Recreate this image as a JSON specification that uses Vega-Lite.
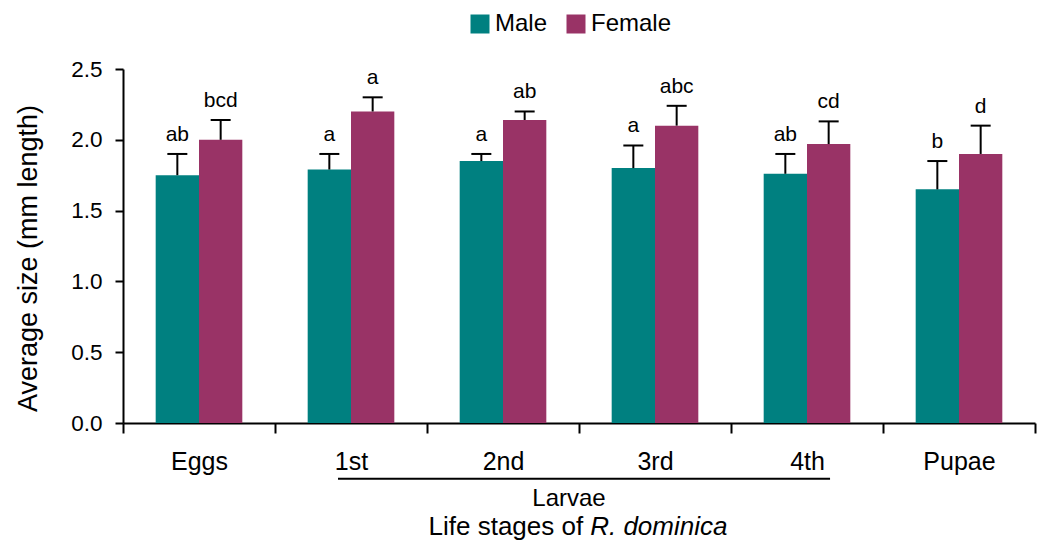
{
  "$schema": "https://vega.github.io/schema/vega-lite/v6.json",
  "autosize": "none",
  "width": 912,
  "height": 354,
  "padding": {"left": 123, "top": 69, "right": 3, "bottom": 128},
  "background": "white",
  "config": {
    "font": "Liberation Sans",
    "view": {"stroke": null},
    "axis": {"domainColor": "black", "tickColor": "black", "labelColor": "black", "titleColor": "black", "domainWidth": 2, "tickWidth": 2, "grid": false, "titleFontWeight": "normal"}
  },
  "datasets": {
    "bars": [
      {"stage": "Eggs", "sex": "Male", "value": 1.75, "upper": 1.90, "letter": "ab"},
      {"stage": "Eggs", "sex": "Female", "value": 2.00, "upper": 2.14, "letter": "bcd"},
      {"stage": "1st", "sex": "Male", "value": 1.79, "upper": 1.90, "letter": "a"},
      {"stage": "1st", "sex": "Female", "value": 2.20, "upper": 2.30, "letter": "a"},
      {"stage": "2nd", "sex": "Male", "value": 1.85, "upper": 1.90, "letter": "a"},
      {"stage": "2nd", "sex": "Female", "value": 2.14, "upper": 2.20, "letter": "ab"},
      {"stage": "3rd", "sex": "Male", "value": 1.80, "upper": 1.96, "letter": "a"},
      {"stage": "3rd", "sex": "Female", "value": 2.10, "upper": 2.24, "letter": "abc"},
      {"stage": "4th", "sex": "Male", "value": 1.76, "upper": 1.90, "letter": "ab"},
      {"stage": "4th", "sex": "Female", "value": 1.97, "upper": 2.13, "letter": "cd"},
      {"stage": "Pupae", "sex": "Male", "value": 1.65, "upper": 1.85, "letter": "b"},
      {"stage": "Pupae", "sex": "Female", "value": 1.90, "upper": 2.10, "letter": "d"}
    ],
    "group": [{"from": "1st", "to": "4th", "mid": "2nd", "label": "Larvae"}],
    "axistitle": [{"stage": "2nd", "plain": "Life stages of", "species": "R. dominica"}]
  },
  "layer": [
    {
      "data": {"name": "bars"},
      "mark": {"type": "bar"},
      "encoding": {
        "x": {"field": "stage", "type": "nominal", "sort": ["Eggs", "1st", "2nd", "3rd", "4th", "Pupae"],
              "scale": {"domain": ["Eggs", "1st", "2nd", "3rd", "4th", "Pupae"], "paddingInner": 0.43, "paddingOuter": 0.215},
              "axis": {"title": null, "labelAngle": 0, "labelFontSize": 25, "bandPosition": 1.7544, "tickOffset": -32.68, "tickExtra": true, "labelOffset": 32.68, "tickSize": 10, "labelPadding": 16}},
        "xOffset": {"field": "sex", "type": "nominal", "sort": ["Male", "Female"], "scale": {"domain": ["Male", "Female"], "paddingInner": 0, "paddingOuter": 0}},
        "y": {"field": "value", "type": "quantitative",
              "scale": {"domain": [0, 2.5], "nice": false},
              "axis": {"title": "Average size (mm length)", "titleFontSize": 27, "labelFontSize": 22.5, "values": [0, 0.5, 1, 1.5, 2, 2.5], "format": ".1f", "tickSize": 8, "labelPadding": 13, "titlePadding": 28, "titleY": 189}},
        "color": {"field": "sex", "type": "nominal",
                  "scale": {"domain": ["Male", "Female"], "range": ["#008080", "#993366"]},
                  "legend": {"title": null, "orient": "none", "legendX": 345, "legendY": -57, "direction": "horizontal", "symbolType": "square", "symbolSize": 361, "symbolStrokeWidth": 0, "symbolOpacity": 1, "labelFontSize": 24, "labelColor": "black", "labelOffset": 3, "columnPadding": 16}}
      }
    },
    {
      "data": {"name": "bars"},
      "mark": {"type": "rule", "color": "black", "strokeWidth": 2},
      "encoding": {
        "x": {"field": "stage", "type": "nominal"},
        "xOffset": {"field": "sex", "type": "nominal"},
        "y": {"field": "value", "type": "quantitative"},
        "y2": {"field": "upper"}
      }
    },
    {
      "data": {"name": "bars"},
      "mark": {"type": "tick", "color": "black", "thickness": 2, "size": 20, "opacity": 1},
      "encoding": {
        "x": {"field": "stage", "type": "nominal"},
        "xOffset": {"field": "sex", "type": "nominal"},
        "y": {"field": "upper", "type": "quantitative"}
      }
    },
    {
      "data": {"name": "bars"},
      "mark": {"type": "text", "fontSize": 21, "baseline": "alphabetic", "dy": -13, "color": "black"},
      "encoding": {
        "x": {"field": "stage", "type": "nominal"},
        "xOffset": {"field": "sex", "type": "nominal"},
        "y": {"field": "upper", "type": "quantitative"},
        "text": {"field": "letter"}
      }
    },
    {
      "data": {"name": "group"},
      "mark": {"type": "rule", "color": "black", "strokeWidth": 2},
      "encoding": {
        "x": {"field": "from", "type": "nominal", "bandPosition": 0.35},
        "x2": {"field": "to", "bandPosition": 0.766},
        "y": {"datum": -0.393}
      }
    },
    {
      "data": {"name": "group"},
      "mark": {"type": "text", "fontSize": 24, "baseline": "alphabetic", "align": "center", "dy": 83, "color": "black"},
      "encoding": {
        "x": {"field": "mid", "type": "nominal", "bandPosition": 1.262},
        "y": {"datum": 0},
        "text": {"field": "label"}
      }
    },
    {
      "data": {"name": "axistitle"},
      "mark": {"type": "text", "fontSize": 26, "baseline": "alphabetic", "align": "right", "dy": 112, "dx": -3, "color": "black"},
      "encoding": {
        "x": {"field": "stage", "type": "nominal", "bandPosition": 1.46},
        "y": {"datum": 0},
        "text": {"field": "plain"}
      }
    },
    {
      "data": {"name": "axistitle"},
      "mark": {"type": "text", "fontSize": 26, "baseline": "alphabetic", "align": "left", "dy": 112, "dx": 4, "fontStyle": "italic", "color": "black"},
      "encoding": {
        "x": {"field": "stage", "type": "nominal", "bandPosition": 1.46},
        "y": {"datum": 0},
        "text": {"field": "species"}
      }
    }
  ]
}
